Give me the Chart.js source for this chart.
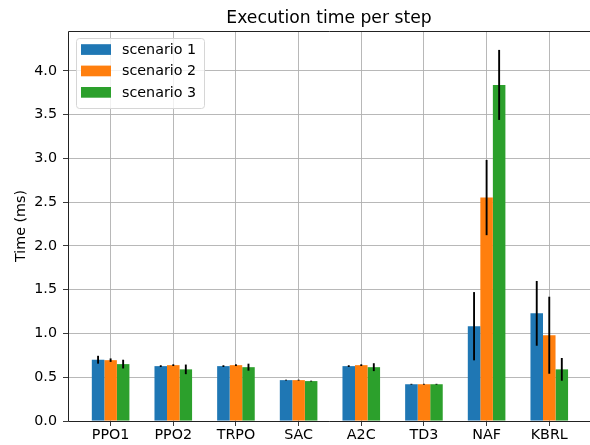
<!DOCTYPE html>
<html>
<head>
<meta charset="utf-8">
<script src="https://cdn.jsdelivr.net/npm/chart.js@4/dist/chart.umd.min.js"></script>
<style>
    html, body { margin: 0; padding: 0; background: #fff; }
    #wrap { width: 590px; height: 445px; }
</style>
</head>
<body>
<div id="wrap"><canvas id="timeChart" width="590" height="445"></canvas></div>
<script>
// chart data
const algorithms = ['PPO1', 'PPO2', 'TRPO', 'SAC', 'A2C', 'TD3', 'NAF', 'KBRL'];
const scenarioNames = ['scenario 1', 'scenario 2', 'scenario 3'];
const scenario1 = [0.70, 0.627, 0.627, 0.467, 0.627, 0.42, 1.083, 1.23];
const scenario2 = [0.695, 0.638, 0.638, 0.467, 0.638, 0.42, 2.553, 0.98];
const scenario3 = [0.65, 0.59, 0.615, 0.456, 0.615, 0.42, 3.84, 0.59];
const error1 = [0.045, 0.01, 0.01, 0.005, 0.01, 0.005, 0.39, 0.37];
const error2 = [0.02, 0.01, 0.01, 0.005, 0.01, 0.005, 0.43, 0.44];
const error3 = [0.05, 0.055, 0.04, 0.005, 0.045, 0.005, 0.40, 0.13];
const yTicks = [0, 0.5, 1.0, 1.5, 2.0, 2.5, 3.0, 3.5, 4.0];

const colors = ['#1f77b4', '#ff7f0e', '#2ca02c'];
const FONT = '"DejaVu Sans", sans-serif';

document.addEventListener('DOMContentLoaded', function() {
    initTimeChart();
});

/**
 * Error bars, frame, title, y label and legend (matplotlib look)
 */
const extrasPlugin = {
    id: 'extras',
    afterDraw(chart) {
        const ctx = chart.ctx;
        const area = chart.chartArea;
        const yScale = chart.scales.y;

        // error bars
        ctx.save();
        ctx.strokeStyle = '#000';
        ctx.lineWidth = 1.9;
        chart.data.datasets.forEach(function(ds, di) {
            const meta = chart.getDatasetMeta(di);
            meta.data.forEach(function(bar, i) {
                const v = ds.data[i].y;
                const e = ds.errors[i];
                ctx.beginPath();
                ctx.moveTo(bar.x, yScale.getPixelForValue(v - e));
                ctx.lineTo(bar.x, yScale.getPixelForValue(v + e));
                ctx.stroke();
            });
        });
        ctx.restore();

        // frame (right spine falls outside the canvas)
        ctx.save();
        ctx.strokeStyle = '#222';
        ctx.lineWidth = 1;
        ctx.beginPath();
        ctx.moveTo(area.right, area.top + 0.5);
        ctx.lineTo(area.left + 0.5, area.top + 0.5);
        ctx.lineTo(area.left + 0.5, area.bottom + 0.5);
        ctx.lineTo(area.right, area.bottom + 0.5);
        ctx.stroke();
        ctx.restore();

        // title
        ctx.save();
        ctx.fillStyle = '#000';
        ctx.font = '17.2px ' + FONT;
        ctx.textAlign = 'center';
        ctx.textBaseline = 'alphabetic';
        ctx.fillText('Execution time per step', 329, 22.5);

        // y label
        ctx.font = '14.3px ' + FONT;
        ctx.translate(21.5, (area.top + area.bottom) / 2);
        ctx.rotate(-Math.PI / 2);
        ctx.textBaseline = 'middle';
        ctx.fillText('Time (ms)', 0, 0);
        ctx.restore();

        // legend
        ctx.save();
        const lx = 76, ly = 38, lw = 128, lh = 70;
        ctx.fillStyle = 'rgba(255,255,255,0.8)';
        ctx.strokeStyle = '#d6d6d6';
        ctx.lineWidth = 1;
        ctx.beginPath();
        ctx.roundRect(lx + 0.5, ly + 0.5, lw, lh, 3);
        ctx.fill();
        ctx.stroke();
        ctx.font = '14.3px ' + FONT;
        ctx.textAlign = 'left';
        ctx.textBaseline = 'middle';
        scenarioNames.forEach(function(name, i) {
            const rowY = 49.5 + i * 21.4;
            ctx.fillStyle = colors[i];
            ctx.fillRect(81, rowY - 5.3, 30, 10.7);
            ctx.fillStyle = '#000';
            ctx.fillText(name, 122, rowY + 0.5);
        });
        ctx.restore();
    }
};

function initTimeChart() {
    const ctx = document.getElementById('timeChart');
    if (!ctx) return;

    const series = [scenario1, scenario2, scenario3];
    const errors = [error1, error2, error3];

    const chartData = {
        datasets: series.map(function(values, s) {
            return {
                label: scenarioNames[s],
                data: values.map(function(v, i) { return { x: i, y: v }; }),
                errors: errors[s],
                backgroundColor: colors[s],
                borderWidth: 0,
                categoryPercentage: 0.6,
                barPercentage: 1.0
            };
        })
    };

    new Chart(ctx, {
        type: 'bar',
        data: chartData,
        plugins: [extrasPlugin],
        options: {
            responsive: false,
            animation: false,
            layout: {
                padding: { left: 0, top: 31, right: 0, bottom: 0 }
            },
            plugins: {
                legend: { display: false },
                title: { display: false },
                tooltip: { enabled: false }
            },
            scales: {
                x: {
                    type: 'linear',
                    min: -0.68,
                    max: 7.65,
                    offset: false,
                    z: 1,
                    afterBuildTicks: function(scale) {
                        scale.ticks = algorithms.map(function(_, i) { return { value: i }; });
                    },
                    afterFit: function(scale) {
                        scale.height = 24;
                    },
                    border: { display: false },
                    grid: {
                        offset: false,
                        color: '#b0b0b0',
                        lineWidth: 0.9,
                        tickColor: '#222',
                        tickLength: 5
                    },
                    ticks: {
                        color: '#000',
                        padding: 1,
                        maxRotation: 0,
                        font: { family: FONT, size: 14.3 },
                        callback: function(value) {
                            return algorithms[value];
                        }
                    }
                },
                y: {
                    min: 0,
                    max: 4.456,
                    z: 1,
                    afterBuildTicks: function(scale) {
                        scale.ticks = yTicks.map(function(v) { return { value: v }; });
                    },
                    afterFit: function(scale) {
                        scale.width = 68;
                    },
                    border: { display: false },
                    grid: {
                        color: '#b0b0b0',
                        lineWidth: 0.9,
                        tickColor: '#222',
                        tickLength: 5
                    },
                    ticks: {
                        color: '#000',
                        padding: 6,
                        font: { family: FONT, size: 14.3 },
                        callback: function(value) {
                            return value.toFixed(1);
                        }
                    }
                }
            }
        }
    });
}
</script>
</body>
</html>
